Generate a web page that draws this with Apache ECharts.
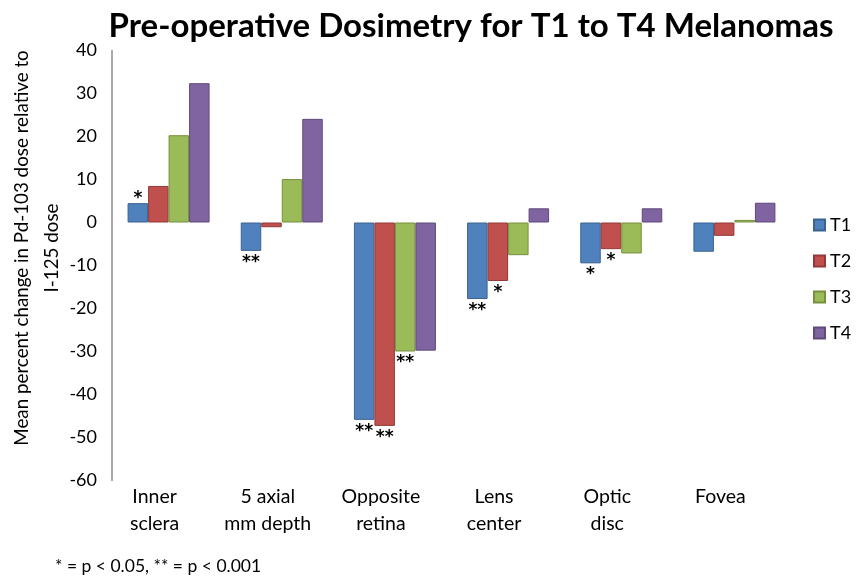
<!DOCTYPE html>
<html>
<head>
<meta charset="utf-8">
<script src="https://cdn.jsdelivr.net/npm/echarts@6/dist/echarts.min.js"></script>
<style>
  html, body { margin: 0; padding: 0; background: #fff; }
  #chart { width: 860px; height: 579px; }
</style>
</head>
<body>
<div id="chart"></div>
<script>
const categories = ['Inner\nsclera', '5 axial\nmm depth', 'Opposite\nretina', 'Lens\ncenter', 'Optic\ndisc', 'Fovea'];
const seriesNames = ['T1', 'T2', 'T3', 'T4'];
const t1 = [4.5, -6.6, -45.9, -17.8, -9.5, -6.8];
const t2 = [8.5, -1.1, -47.3, -13.6, -6.2, -3.1];
const t3 = [20.3, 10.1, -30.0, -7.6, -7.2, 0.6];
const t4 = [32.4, 24.1, -29.8, 3.3, 3.3, 4.6];
// significance marks drawn next to each bar
const t1Sig = ['*', '**', '**', '**', '*', ''];
const t2Sig = ['', '', '**', '*', '*', ''];
const t3Sig = ['', '', '**', '', '', ''];
const t4Sig = ['', '', '', '', '', ''];

const values = [t1, t2, t3, t4];
const marks = [t1Sig, t2Sig, t3Sig, t4Sig];
const colors = ['#4F81BD', '#C0504D', '#9BBB59', '#8064A2'];
const borders = ['#3a6390', '#93393a', '#76903f', '#5f4a7a'];

const font = 'Lato, "Open Sans", sans-serif';
const chart = echarts.init(document.getElementById('chart'));

chart.setOption({
  animation: false,
  title: {
    text: 'Pre-operative Dosimetry for T1 to T4 Melanomas',
    left: 466,
    textAlign: 'center',
    top: 5,
    textStyle: {
      fontFamily: font,
      fontSize: 33,
      fontWeight: 'bold',
      color: '#000',
    },
  },
  legend: {
    orient: 'vertical',
    left: 808,
    top: 211,
    itemWidth: 11,
    itemHeight: 11,
    itemGap: 18,
    icon: 'rect',
    textStyle: {
      fontFamily: font,
      fontSize: 18,
      color: '#000',
    },
    data: seriesNames,
  },
  grid: {
    left: 112,
    right: 69,
    top: 50.5,
    bottom: 98.5,
  },
  xAxis: {
    type: 'category',
    data: categories,
    axisLine: { show: false },
    axisTick: { show: false },
    axisLabel: {
      interval: 0,
      margin: 3,
      fontFamily: font,
      fontSize: 19.5,
      lineHeight: 27,
      color: '#000',
      padding: [0, 28, 0, 0],
    },
  },
  yAxis: {
    type: 'value',
    min: -60,
    max: 40,
    interval: 10,
    axisLine: { show: true, lineStyle: { color: '#8c8c8c', width: 1.5 } },
    axisTick: { show: false },
    splitLine: { show: false },
    axisLabel: {
      margin: 15,
      fontFamily: font,
      fontSize: 18,
      color: '#000',
    },
  },
  graphic: [
    {
      type: 'text',
      x: 37,
      y: 248,
      rotation: Math.PI / 2,
      style: {
        text: 'Mean percent change in Pd-103 dose relative to\nI-125 dose',
        textAlign: 'center',
        textVerticalAlign: 'middle',
        fontFamily: font,
        fontSize: 18.8,
        lineHeight: 30,
        fill: '#000',
      },
    },
    {
      type: 'text',
      left: 55,
      top: 557,
      style: {
        text: '* = p < 0.05, ** = p < 0.001',
        fontFamily: font,
        fontSize: 17.5,
        fill: '#000',
      },
    },
  ],
  series: seriesNames.map((name, i) => ({
    name,
    type: 'bar',
    barWidth: 20.5,
    barGap: '0%',
    itemStyle: {
      color: colors[i],
      borderColor: borders[i],
      borderWidth: 1,
    },
    label: {
      show: true,
      fontFamily: 'DejaVu Sans, sans-serif',
      fontSize: 17,
      fontWeight: 'bold',
      color: '#000',
      formatter: (p) => marks[i][p.dataIndex],
    },
    data: values[i].map((v) => ({
      value: v,
      label: v < 0
        ? { position: 'bottom', distance: 3 }
        : { position: 'top', distance: -4 },
    })),
  })),
});
</script>
</body>
</html>
